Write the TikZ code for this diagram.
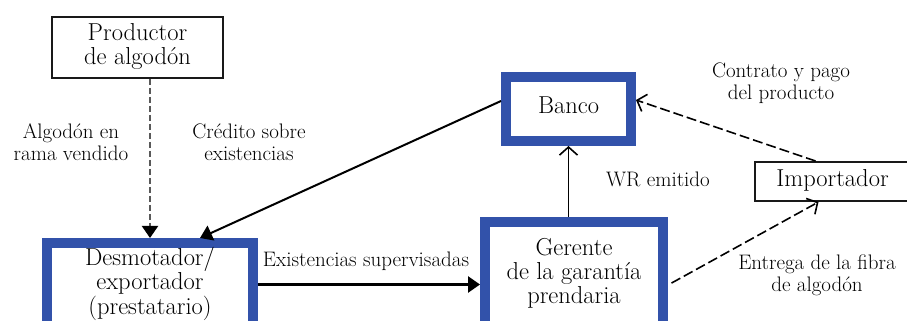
\documentclass[tikz,border=0pt]{standalone}
\usepackage{tikz}
\usetikzlibrary{shapes,arrows,arrows.meta}
\usetikzlibrary{calc}
\definecolor{myblue}{RGB}{50, 82, 170}

\begin{document}
\begin{tikzpicture}[x=1pt,y=1pt]

\tikzstyle{white_block} = [draw, line width=2, draw=black!90, fill=white, inner sep=0,
font=\fontsize{24.5}{23}\selectfont]
\tikzstyle{blue_block} = [draw, line width=10, draw=myblue, fill=white, inner sep=0,
font=\fontsize{24.5}{23}\selectfont]
\tikzstyle{lbl} = [inner sep=0, font=\fontsize{21}{22}\selectfont]
\tikzstyle{solid_arrow} = [-{Triangle[length=12pt,width=16pt,color=black]}, line width=2]
\tikzstyle{open_arrow} = [-{Straight Barb[length=8pt,width=18pt]}, line width=1.6]

\fill[white] (0,0) rectangle (907,321);
\useasboundingbox (0,0) rectangle (907,321);


\node [white_block, minimum width=171, minimum height=61] (prod) at (137.5,273.5) {\begin{tabular}{c} Productor\\ de algodón\end{tabular}};

\node [blue_block, minimum width=206, minimum height=83] (desm) at (150,36.5) {\begin{tabular}{c} Desmotador/\\ exportador\\ (prestatario)\end{tabular}};

\node [blue_block, minimum width=125, minimum height=64] (banco) at (568.5,212) {\begin{tabular}{c} Banco\end{tabular}};

\node [blue_block, minimum width=178, minimum height=104] (ger) at (574,47) {\raisebox{5pt}{\begin{tabular}{c} Gerente\\ de la garantía\\ prendaria\end{tabular}}};

\node [white_block, minimum width=155, minimum height=39] (imp) at (832.5,139.5) {\begin{tabular}{c} Importador\end{tabular}};



\node [lbl] (lalg) at (71,176) {\begin{tabular}{c} Algodón en\\ rama vendido\end{tabular}};
\node [lbl] (lcred) at (249,176) {\begin{tabular}{c} Crédito sobre\\ existencias\end{tabular}};
\node [lbl] (lexist) at (366,59) {\begin{tabular}{c} Existencias supervisadas\end{tabular}};
\node [lbl] (lwr) at (658,139) {\begin{tabular}{c} WR emitido\end{tabular}};
\node [lbl] (lcont) at (781,237) {\begin{tabular}{c} Contrato y pago\\ del producto\end{tabular}};
\node [lbl] (lentr) at (817,45) {\begin{tabular}{c} Entrega de la fibra\\ de algodón\end{tabular}};



 \draw[solid_arrow, draw=black!65, dash pattern=on 6pt off 3pt] (desm.north |- prod.south) -- (desm.north);

 \draw[solid_arrow] ([yshift=8pt]banco.west) -- ([xshift=50pt]desm.north);

 \draw[solid_arrow, line width=2.6] (desm.east) -- (desm.east -| ger.west);

 \draw[open_arrow] (ger.north -| banco.south) -- (banco.south);

 \draw[open_arrow, dash pattern=on 10pt off 4pt] ([xshift=-17pt]imp.north) -- ([yshift=9pt]banco.east);

 \draw[open_arrow, dash pattern=on 10pt off 4pt, shorten <=4pt] ([yshift=-11pt]ger.east) -- ([xshift=-14pt]imp.south);


\end{tikzpicture}
\end{document}
